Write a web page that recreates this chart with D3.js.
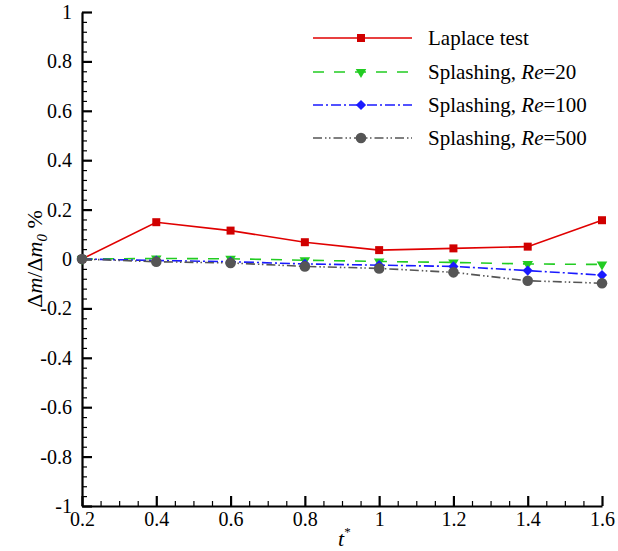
<!DOCTYPE html>
<html>
<head>
<meta charset="utf-8">
<script src="https://cdn.jsdelivr.net/npm/d3@7"></script>
<style>
body { margin: 0; background: #fff; }
svg text { font-family: 'Liberation Serif', 'Times New Roman', Times, 'DejaVu Serif', serif !important; fill: #000; }
</style>
</head>
<body>
<script>
const tValues = [0.2, 0.4, 0.6, 0.8, 1.0, 1.2, 1.4, 1.6];
const laplace = [0, 0.149, 0.115, 0.068, 0.036, 0.043, 0.05, 0.157];
const re20 = [0, 0.002, 0.001, -0.005, -0.01, -0.014, -0.02, -0.022];
const re100 = [0, -0.006, -0.011, -0.02, -0.025, -0.03, -0.047, -0.065];
const re500 = [0, -0.011, -0.016, -0.03, -0.038, -0.054, -0.088, -0.098];
const xTicks = [0.2, 0.4, 0.6, 0.8, 1, 1.2, 1.4, 1.6];
const yTicks = [-1, -0.8, -0.6, -0.4, -0.2, 0, 0.2, 0.4, 0.6, 0.8, 1];
const seriesNames = ['Laplace test', 'Splashing, ', 'Splashing, ', 'Splashing, '];
const reLabels = ['', '20', '100', '500'];

const serif = "'Liberation Serif', 'Times New Roman', Times, 'DejaVu Serif', serif";

const series = [
    {name: seriesNames[0], re: reLabels[0], values: laplace, color: '#e00000', marker: '#d00000', dash: null, shape: 'square'},
    {name: seriesNames[1], re: reLabels[1], values: re20, color: '#22cc22', marker: '#22cc22', dash: '11,10', shape: 'triangle'},
    {name: seriesNames[2], re: reLabels[2], values: re100, color: '#1a1aff', marker: '#1a1aff', dash: '10,3,2,3', shape: 'diamond'},
    {name: seriesNames[3], re: reLabels[3], values: re500, color: '#555555', marker: '#555555', dash: '9,3,1.5,2.5,1.5,3', shape: 'circle'}
];

const svg = d3.select('body')
    .append('svg')
    .attr('width', 618)
    .attr('height', 551)
    .attr('font-family', serif);

const x = d3.scaleLinear().domain([0.2, 1.6]).range([82, 602]);
const y = d3.scaleLinear().domain([-1, 1]).range([506, 12]);

const fmt = d => String(+(+d).toFixed(1));

// minor ticks first
const xMinor = d3.range(0.2, 1.6001, 0.05).filter(v => Math.abs(v * 5 - Math.round(v * 5)) > 1e-6);
const yMinor = d3.range(-1, 1.0001, 0.04).filter(v => Math.abs(v * 5 - Math.round(v * 5)) > 1e-6);

svg.append('g')
    .attr('transform', 'translate(0,506)')
    .call(d3.axisBottom(x).tickValues(xMinor).tickSize(-5).tickFormat(''))
    .call(g => g.select('.domain').remove())
    .selectAll('line').attr('stroke-width', 1.2);

svg.append('g')
    .attr('transform', 'translate(82,0)')
    .call(d3.axisLeft(y).tickValues(yMinor).tickSize(-5).tickFormat(''))
    .call(g => g.select('.domain').remove())
    .selectAll('line').attr('stroke-width', 1.2);

const xAxis = svg.append('g')
    .attr('transform', 'translate(0,506)')
    .call(d3.axisBottom(x).tickValues(xTicks).tickSize(-10).tickSizeOuter(0).tickPadding(6).tickFormat(fmt));

const yAxis = svg.append('g')
    .attr('transform', 'translate(82,0)')
    .call(d3.axisLeft(y).tickValues(yTicks).tickSize(-10).tickSizeOuter(0).tickPadding(10).tickFormat(fmt));

[xAxis, yAxis].forEach(g => {
    g.attr('font-family', serif).attr('font-size', 20);
    g.select('.domain').attr('stroke-width', 2.2);
    g.selectAll('.tick line').attr('stroke-width', 2.2);
    g.selectAll('.tick text')
        .style('font-family', serif)
        .style('font-size', '20px');
});

// series lines
const line = d3.line()
    .x((d, i) => x(tValues[i]))
    .y(d => y(d));

function symbolFor(shape) {
    if(shape === 'square')
        return d3.symbol().type(d3.symbolSquare).size(64)();
    if(shape === 'triangle')
        return d3.symbol().type(d3.symbolTriangle).size(48)();
    if(shape === 'diamond')
        return d3.symbol().type(d3.symbolSquare).size(52)();
    return d3.symbol().type(d3.symbolCircle).size(88)();
}

function rotateFor(shape) {
    if(shape === 'triangle')
        return ' rotate(180)';
    if(shape === 'diamond')
        return ' rotate(45)';
    return '';
}

series.forEach(s => {
    svg.append('path')
        .datum(s.values)
        .attr('d', line)
        .attr('fill', 'none')
        .attr('stroke', s.color)
        .attr('stroke-width', 1.6)
        .attr('stroke-dasharray', s.dash);

    svg.selectAll(null)
        .data(s.values)
        .enter()
        .append('path')
        .attr('d', symbolFor(s.shape))
        .attr('transform', (d, i) => 'translate(' + x(tValues[i]) + ',' + y(d) + ')' + rotateFor(s.shape))
        .attr('fill', s.marker);
});

// legend
const legend = svg.append('g');
const rowY = [38, 72, 105, 138];

series.forEach((s, i) => {
    const row = legend.append('g').attr('transform', 'translate(0,' + rowY[i] + ')');
    row.append('line')
        .attr('x1', 313)
        .attr('x2', 412)
        .attr('stroke', s.color)
        .attr('stroke-width', 1.6)
        .attr('stroke-dasharray', s.dash);
    row.append('path')
        .attr('d', symbolFor(s.shape))
        .attr('transform', 'translate(361,0)' + rotateFor(s.shape))
        .attr('fill', s.marker);
    const label = row.append('text')
        .attr('x', 428)
        .attr('y', 7)
        .style('font-family', serif)
        .style('font-size', '21px');
    label.append('tspan').text(s.name);
    if(s.re) {
        label.append('tspan').style('font-style', 'italic').text('Re');
        label.append('tspan').text('=' + s.re);
    }
});

// axis titles
const xTitle = svg.append('text')
    .attr('x', 338)
    .attr('y', 546)
    .style('font-family', serif)
    .style('font-size', '22px');
xTitle.append('tspan').style('font-style', 'italic').text('t');
xTitle.append('tspan').attr('dy', -10).style('font-size', '13px').text('*');

const yTitle = svg.append('text')
    .attr('transform', 'translate(42,259) rotate(-90)')
    .attr('text-anchor', 'middle')
    .style('font-family', serif)
    .style('font-size', '22px');
yTitle.append('tspan').text('\u0394');
yTitle.append('tspan').style('font-style', 'italic').text('m');
yTitle.append('tspan').text('/\u0394');
yTitle.append('tspan').style('font-style', 'italic').text('m');
yTitle.append('tspan').attr('dy', 5).style('font-style', 'italic').style('font-size', '15px').text('0');
yTitle.append('tspan').attr('dy', -5).text(' %');
</script>
</body>
</html>
